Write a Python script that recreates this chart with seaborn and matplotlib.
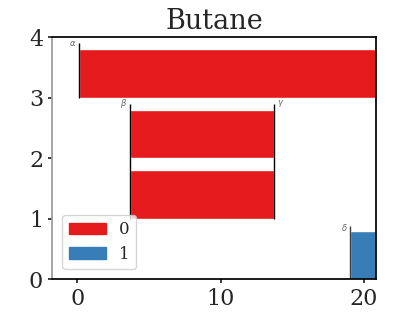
import matplotlib
matplotlib.use('Agg')
import matplotlib.pyplot as plt
import seaborn as sns
from matplotlib.patches import Patch

sns.set_theme(style='ticks')
plt.rcParams['font.family'] = ['DejaVu Serif']

# Данные баркода
rows = [0, 1, 2, 3]
births = [19.0, 3.65, 3.65, 0.1]
deaths = [21.5, 13.75, 13.75, 21.5]
dims = [1, 0, 0, 0]
names = [r'$\delta$', None, r'$\beta$', r'$\alpha$']
end_names = [None, None, r'$\gamma$', None]
dim_labels = ['0', '1']

palette = sns.color_palette('Set1', 2)

fig, ax = plt.subplots(figsize=(4.18, 3.14), dpi=100)

for r, b, d, k in zip(rows, births, deaths, dims):
    ax.barh(r, d - b, left=b, height=0.8, align='edge', color=palette[k])

# вертикальные линии и подписи
ax.vlines(births[0], 0, 0.88, color='0.25', lw=1)
ax.vlines(births[1], 1, 2.9, color='black', lw=1)
ax.vlines(deaths[1], 1, 2.9, color='black', lw=1)
ax.vlines(births[3], 3, 3.9, color='black', lw=1)
for r, b, n in zip(rows, births, names):
    if n:
        ax.text(b - 0.15, r + 0.86 if r == 0 else r + 0.9, n, fontsize=6, color='0.4',
                ha='right', va='center')
ax.text(deaths[2] + 0.2, 2.9, end_names[2], fontsize=6, color='0.4', ha='left', va='center')

ax.set_xlim(-1.75, 20.85)
ax.set_ylim(0, 4)
ax.set_xticks([0, 10, 20])
ax.set_yticks([0, 1, 2, 3, 4])
ax.tick_params(labelsize=16, length=3)
ax.set_title('Butane', fontsize=19.5)

for s in ['top', 'right', 'bottom']:
    ax.spines[s].set_color('black')
ax.spines['left'].set_color('0.6')

handles = [Patch(color=palette[i]) for i in range(2)]
ax.legend(handles, dim_labels, loc='lower left', fontsize=12, handlelength=2.2,
          borderpad=0.4, labelspacing=0.45, borderaxespad=0.6)

fig.subplots_adjust(left=0.125, right=0.9, top=0.882, bottom=0.11)
fig.savefig('out.png')
